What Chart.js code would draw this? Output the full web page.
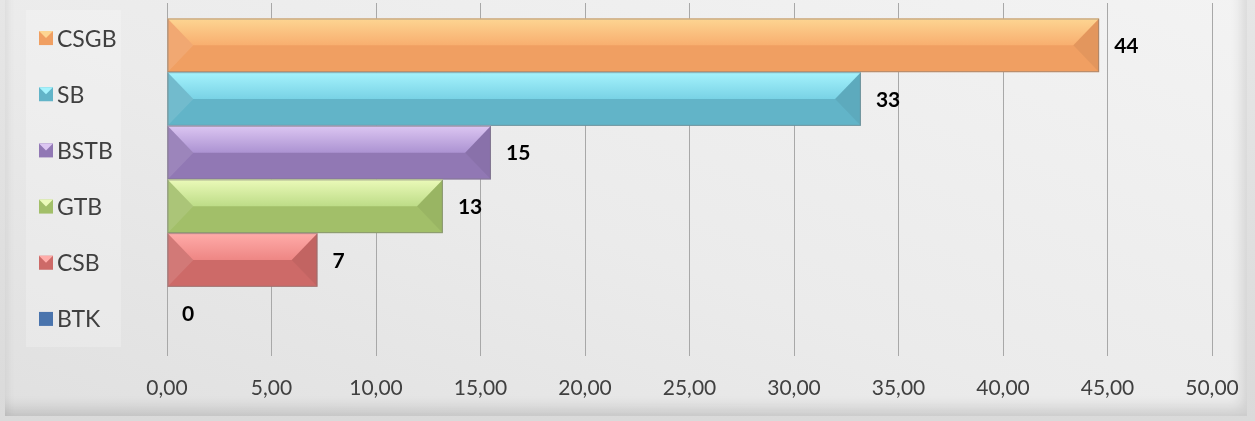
<!DOCTYPE html>
<html>
<head>
<meta charset="utf-8">
<script src="https://cdn.jsdelivr.net/npm/chart.js@4.4.1/dist/chart.umd.min.js"></script>
<style>
	html, body { margin: 0; padding: 0; background: #dcdcdc; }
	#frame {
		position: relative; width: 1255px; height: 421px; overflow: hidden;
		background: linear-gradient(180deg, #e6e6e6 0%, #dadada 100%);
	}
	#panel {
		position: absolute; left: 5px; top: -12px; width: 1242px; height: 428px;
		background: linear-gradient(200deg, #f3f3f3 0%, #ebebeb 55%, #e0e0e0 100%);
		box-shadow: inset -10px -14px 14px -6px rgba(0,0,0,0.13), inset 6px 0 8px -4px rgba(0,0,0,0.08);
	}
	#myChart { position: absolute; left: 0; top: 0; }
</style>
</head>
<body>
<div id="frame">
	<div id="panel"></div>
	<canvas id="myChart" width="1255" height="421"></canvas>
</div>
<script>
// chart data
var seriesNames = ['CSGB', 'SB', 'BSTB', 'GTB', 'CSB', 'BTK'];
var seriesValues = [44.6, 33.2, 15.5, 13.2, 7.2, 0];
var valueLabels = ['44', '33', '15', '13', '7', '0'];
var xTicks = [0, 5, 10, 15, 20, 25, 30, 35, 40, 45, 50];

// bevel colours: [top light, top mid, bottom dark]
var seriesColors = [
	['#fdd592', '#f8ae6f', '#f09f62'],
	['#a5f3fd', '#79d2e5', '#62b4c8'],
	['#dcc6f2', '#ac93d2', '#9178b4'],
	['#ebfab9', '#bddc87', '#a2bf69'],
	['#ffaca9', '#ee8684', '#cd6a68'],
	['#7aa3d8', '#5b86c0', '#4a74ad']
];

var FONT = 'Lato, "Open Sans", sans-serif';

// draws the bevelled bars, values and legend box
var bevelPlugin = {
	id: 'bevel',
	afterDatasetsDraw: function(chart) {
		var ctx = chart.ctx;
		chart.data.datasets.forEach(function(ds, i) {
			var meta = chart.getDatasetMeta(i);
			var c = seriesColors[i];
			meta.data.forEach(function(bar) {
				var L = bar.base, R = bar.x;
				var T = bar.y - bar.height / 2, B = bar.y + bar.height / 2, M = bar.y;
				var w = Math.min(bar.height / 2 - 1, (R - L) / 2);
				if (R - L > 0.5) {
					ctx.save();
					// bottom part
					ctx.fillStyle = c[2];
					ctx.fillRect(L, T, R - L, B - T);
					// top part
					var g = ctx.createLinearGradient(0, T, 0, M);
					g.addColorStop(0, c[0]);
					g.addColorStop(1, c[1]);
					ctx.fillStyle = g;
					ctx.beginPath();
					ctx.moveTo(L, T); ctx.lineTo(R, T); ctx.lineTo(R - w, M); ctx.lineTo(L + w, M);
					ctx.closePath(); ctx.fill();
					// left facet
					ctx.fillStyle = 'rgba(255,255,255,0.10)';
					ctx.beginPath();
					ctx.moveTo(L, T); ctx.lineTo(L + w, M); ctx.lineTo(L, B);
					ctx.closePath(); ctx.fill();
					// right facet
					ctx.fillStyle = 'rgba(0,0,0,0.05)';
					ctx.beginPath();
					ctx.moveTo(R, T); ctx.lineTo(R, B); ctx.lineTo(R - w, M);
					ctx.closePath(); ctx.fill();
					ctx.strokeStyle = 'rgba(120,120,120,0.55)';
					ctx.lineWidth = 1;
					ctx.strokeRect(L + 0.5, T + 0.5, R - L - 1, B - T - 1);
					ctx.restore();
				}
				ctx.save();
				ctx.font = 'bold 21px ' + FONT;
				ctx.fillStyle = '#000000';
				ctx.textBaseline = 'middle';
				ctx.fillText(valueLabels[i], R + 15, M + 1);
				ctx.restore();
			});
		});
	},
	beforeDraw: function(chart) {
		var ctx = chart.ctx;
		var n = seriesNames.length;
		var top = 10, bottom = 347, step = (bottom - top) / n;
		ctx.save();
		ctx.fillStyle = 'rgba(255,255,255,0.22)';
		ctx.fillRect(26, top, 95, bottom - top);
		ctx.font = '23px ' + FONT;
		ctx.textBaseline = 'middle';
		for (var i = 0; i < n; i++) {
			var cy = top + step * (i + 0.5);
			var c = seriesColors[i];
			ctx.fillStyle = c[2];
			ctx.fillRect(39, cy - 7, 14, 14);
			if (i < n - 1) {
				ctx.fillStyle = c[0];
				ctx.beginPath();
				ctx.moveTo(39, cy - 7); ctx.lineTo(53, cy - 7); ctx.lineTo(46, cy);
				ctx.closePath(); ctx.fill();
			}
			ctx.fillStyle = '#404040';
			ctx.fillText(seriesNames[i], 57, cy + 1);
		}
		ctx.restore();
	}
};

var datasets = seriesNames.map(function(name, i) {
	return {
		label: name,
		data: [seriesValues[i]],
		backgroundColor: 'rgba(0,0,0,0)',
		borderWidth: 0
	};
});

var myChart = new Chart(document.getElementById('myChart'), {
	type: 'bar',
	data: { labels: [''], datasets: datasets },
	options: {
		indexAxis: 'y',
		responsive: false,
		animation: false,
		categoryPercentage: 0.912,
		barPercentage: 1,
		layout: { padding: { left: 167, right: 43, top: 3, bottom: 0 } },
		plugins: {
			legend: { display: false },
			tooltip: { enabled: false }
		},
		scales: {
			x: {
				min: 0,
				max: 50,
				afterBuildTicks: function(scale) {
					scale.ticks = xTicks.map(function(v) { return { value: v }; });
				},
				afterFit: function(scale) {
					scale.height = 65;
					scale.paddingLeft = 0;
					scale.paddingRight = 0;
				},
				grid: { color: '#a8a8a8', lineWidth: 1, drawTicks: false },
				border: { display: false },
				ticks: {
					padding: 20,
					color: '#404040',
					font: { family: FONT, size: 21 },
					callback: function(v) { return v.toFixed(2).replace('.', ','); }
				}
			},
			y: { display: false }
		}
	},
	plugins: [bevelPlugin]
});
</script>
</body>
</html>
